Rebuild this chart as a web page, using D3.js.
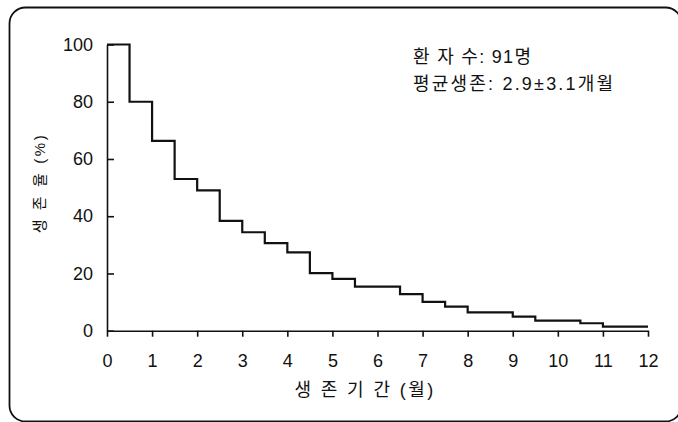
<!DOCTYPE html>
<html>
<head>
<meta charset="utf-8">
<script src="https://cdn.jsdelivr.net/npm/d3@7"></script>
<style>
  html, body { margin: 0; padding: 0; background: #fff; }
  svg { display: block; }
  text { font-family: "Liberation Sans", Arial, "Noto Sans CJK KR", sans-serif; fill: #111; }
</style>
</head>
<body>
<div id="chart"></div>
<script>
// ── 데이터 ───────────────────────────────────────────────
const stepMonths = [0, 0.5, 1, 1.5, 2, 2.5, 3, 3.5, 4, 4.5, 5, 5.5, 6.5, 7, 7.5, 8, 9, 9.5, 10.5, 11, 12];
const survival   = [100, 80, 66.3, 53, 49, 38.4, 34.4, 30.6, 27.4, 20.1, 18.1, 15.4, 12.8, 10.1, 8.4, 6.4, 4.9, 3.5, 2.6, 1.4, 1.4];
const xTicks = [0, 1, 2, 3, 4, 5, 6, 7, 8, 9, 10, 11, 12];
const yTicks = [0, 20, 40, 60, 80, 100];
const xTitle = "생 존 기 간 (월)";
const yTitle = "생 존 율 (%)";
const notes  = ["환 자 수: 91명", "평균생존: 2.9±3.1개월"];

const W = 678, H = 422;
const svg = d3.select('#chart').append('svg').attr('width', W).attr('height', H);

// 둥근 테두리
svg.append('rect')
  .attr('x', 9.5).attr('y', 7.5)
  .attr('width', 672).attr('height', 414)
  .attr('rx', 16).attr('ry', 16)
  .attr('fill', 'none').attr('stroke', '#111').attr('stroke-width', 1.8);

const x = d3.scaleLinear().domain([0, 12]).range([107, 648]);
const y = d3.scaleLinear().domain([0, 100]).range([330.7, 44.5]);

// ── 축 ──
const gx = svg.append('g').attr('transform', `translate(0,${y(0)})`)
  .call(d3.axisBottom(x).tickValues(xTicks).tickSize(6).tickSizeOuter(0).tickPadding(18));
const gy = svg.append('g').attr('transform', `translate(${x(0)},0)`)
  .call(d3.axisLeft(y).tickValues(yTicks).tickSize(-7).tickSizeOuter(0).tickPadding(14));

[gx, gy].forEach(g => {
  g.select('.domain').attr('stroke', '#111').attr('stroke-width', 1.6);
  g.selectAll('.tick line').attr('stroke', '#111').attr('stroke-width', 1.6);
  g.selectAll('.tick text').attr('font-size', 18).attr('fill', '#111')
    .style('font-family', '"Liberation Sans", Arial, sans-serif');
});

// ── 생존 곡선 ──
const pts = stepMonths.map((m, i) => [m, survival[i]]);
svg.append('path')
  .datum(pts)
  .attr('fill', 'none')
  .attr('stroke', '#111')
  .attr('stroke-width', 2.2)
  .attr('d', d3.line().x(d => x(d[0])).y(d => y(d[1])).curve(d3.curveStepAfter));

// ── 축 제목 ──
svg.append('text')
  .attr('x', 365).attr('y', 396)
  .attr('text-anchor', 'middle')
  .attr('font-size', 18)
  .attr('letter-spacing', 2.4)
  .text(xTitle);

svg.append('text')
  .attr('transform', 'translate(45,183) rotate(-90)')
  .attr('text-anchor', 'middle')
  .attr('font-size', 15)
  .attr('letter-spacing', 2.6)
  .text(yTitle);

// ── 주석 ──
svg.selectAll('text.note')
  .data(notes)
  .enter()
  .append('text')
  .attr('class', 'note')
  .attr('x', 413)
  .attr('y', (d, i) => 63 + i * 27)
  .attr('font-size', 18)
  .attr('letter-spacing', (d, i) => i === 0 ? 1.3 : 2.2)
  .text(d => d);
</script>
</body>
</html>
